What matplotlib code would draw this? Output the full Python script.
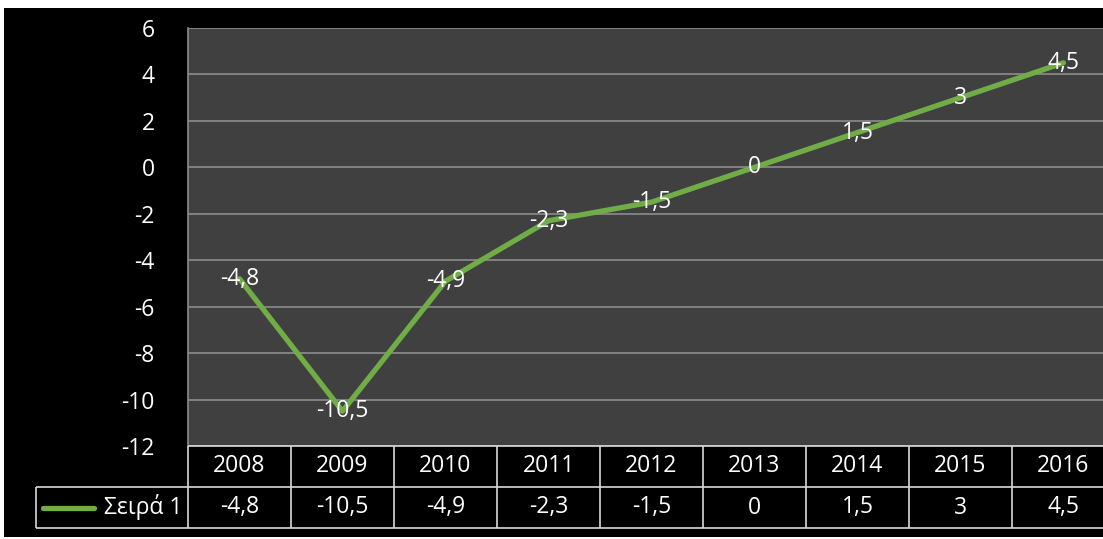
import matplotlib
matplotlib.use("Agg")
import matplotlib.pyplot as plt
from matplotlib.patches import Rectangle

plt.rcParams['font.family'] = ['Open Sans', 'DejaVu Sans']

years = ["2008", "2009", "2010", "2011", "2012", "2013", "2014", "2015", "2016"]
values = [-4.8, -10.5, -4.9, -2.3, -1.5, 0, 1.5, 3, 4.5]
series_name = "Σειρά 1"
yticks = [-12, -10, -8, -6, -4, -2, 0, 2, 4, 6]

W, H = 1103, 539
GREEN = "#70ad47"
GRID = "#8c8c8c"
BORDER = "#d9d9d9"
FS = 16.5


def fmt(v):
    s = ("%g" % v).replace(".", ",")
    return s


def fx(px):
    return px / W


def fy(py):
    return 1 - py / H


fig = plt.figure(figsize=(W / 100, H / 100), dpi=100, facecolor="white")
fig.patches.append(Rectangle((fx(4), fy(537)), fx(1103) - fx(4), fy(8) - fy(537),
                             transform=fig.transFigure, facecolor="black",
                             edgecolor="none", zorder=-10))

# main plot area
left, right = 188, 1115
ax = fig.add_axes([fx(left), fy(446), fx(right - left), fy(28) - fy(446)])
ax.set_facecolor("#404040")
x = list(range(len(years)))
ax.set_xlim(-0.5, len(years) - 0.5)
ax.set_ylim(-12, 6)
ax.set_yticks(yticks)
ax.set_yticklabels([str(t) for t in yticks], color="white", fontsize=FS)
ax.tick_params(axis="y", length=0, pad=24)
ax.set_xticks([])
ax.grid(axis="y", color=GRID, linewidth=1.2)
ax.set_axisbelow(True)
for side in ["top", "right", "bottom"]:
    ax.spines[side].set_visible(False)
ax.spines["left"].set_color(GRID)
ax.spines["left"].set_linewidth(1.2)

ax.plot(x, values, color=GREEN, linewidth=3.8, solid_capstyle="round", zorder=3)
for xi, v in zip(x, values):
    ax.text(xi, v, fmt(v), color="white", fontsize=FS, ha="center", va="center", zorder=4)

# data table below the plot
tab = fig.add_axes([fx(left), fy(528), fx(right - left), fy(446) - fy(528)])
tab.set_xlim(-0.5, len(years) - 0.5)
tab.set_ylim(2, 0)
tab.axis("off")
px_per_unit = (right - left) / len(years)
x_leg = -0.5 - (left - 36) / px_per_unit

tab.hlines(0, -0.5, len(years) - 0.5, color=BORDER, linewidth=1.2, clip_on=False)
tab.hlines([1, 2], x_leg, len(years) - 0.5, color=BORDER, linewidth=1.2, clip_on=False)
for b in range(len(years) + 1):
    tab.vlines(b - 0.5, 0, 2, color=BORDER, linewidth=1.2, clip_on=False)
tab.vlines(x_leg, 1, 2, color=BORDER, linewidth=1.2, clip_on=False)

for xi, yr, v in zip(x, years, values):
    tab.text(xi, 0.5, yr, color="white", fontsize=FS, ha="center", va="center")
    tab.text(xi, 1.5, fmt(v), color="white", fontsize=FS, ha="center", va="center")


def dx(px):
    return (px - left) / px_per_unit - 0.5


tab.plot([dx(43), dx(94)], [1.5, 1.5], color=GREEN, linewidth=3.8,
         solid_capstyle="round", clip_on=False)
tab.text(dx(182), 1.5, series_name, color="white", fontsize=FS, ha="right", va="center",
         clip_on=False)

fig.savefig("out.png", dpi=100, facecolor=fig.get_facecolor())
